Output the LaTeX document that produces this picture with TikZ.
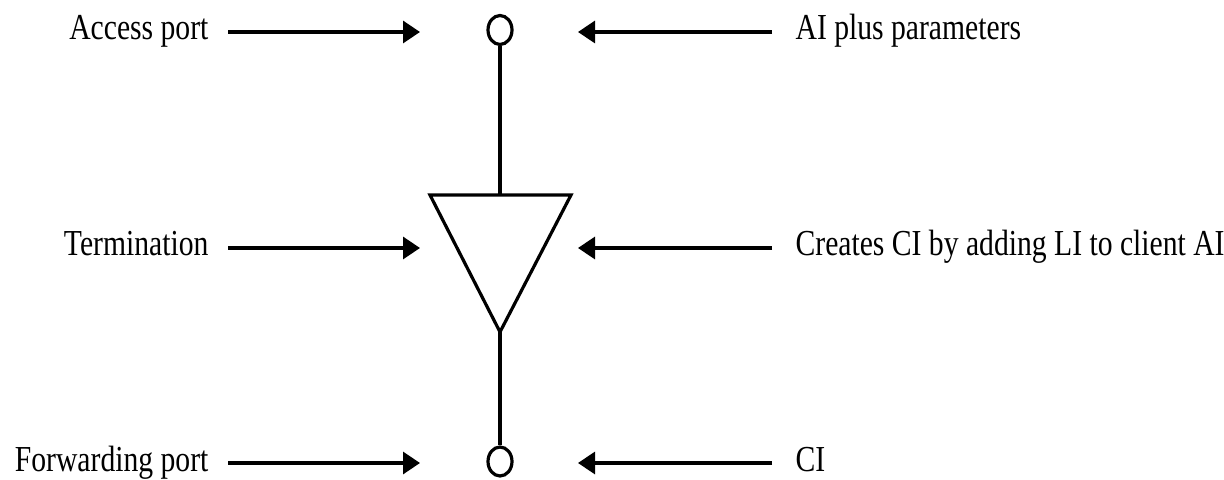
\documentclass[tikz,border=0pt]{standalone}
\usepackage{fontspec}
\setmainfont{Liberation Serif}[FakeStretch=0.81]
\usetikzlibrary{arrows.meta, positioning, shapes.geometric}

\begin{document}
\begin{tikzpicture}[>={Triangle[length=8.5pt, width=11pt]}, x=0.5pt, y=-0.5pt,
    line width=1.6pt,
    port/.style={draw, ellipse, inner sep=0pt, minimum width=12pt, minimum height=14.5pt},
    lbl/.style={font=\fontsize{18.3}{21}\selectfont, inner sep=0pt}]
  \useasboundingbox (0,0) rectangle (1224,480);

  % Access and forwarding ports
  \node[port] (acc) at (500,30) {};
  \node[port] (fwd) at (500,461.5) {};

  % Termination triangle
  \coordinate (tl) at (430,195);
  \coordinate (tr) at (571,195);
  \coordinate (tb) at (500,332);
  \coordinate (tt) at (500,195);
  \draw[line join=miter] (tl) -- (tr) -- (tb) -- cycle;
  \draw (acc.south) -- (tt);
  \draw (tb) -- (fwd.north);

  % Labels and pointers
  \foreach \n/\y/\l/\r in {a/32/Access port/AI plus parameters,
      t/248/Termination/Creates CI by adding LI to client AI,
      f/463/Forwarding port/CI}{
    \node[lbl, anchor=base east] (\n L) at (210,\y+8) {\l};
    \node[lbl, anchor=base west] (\n R) at (794,\y+8) {\r};
    \coordinate (\n la) at (228,\y);
    \coordinate (\n lb) at (420,\y);
    \coordinate (\n ra) at (772,\y);
    \coordinate (\n rb) at (578,\y);
    \draw[->] (\n la) -- (\n lb);
    \draw[->] (\n ra) -- (\n rb);
  }
\end{tikzpicture}
\end{document}
